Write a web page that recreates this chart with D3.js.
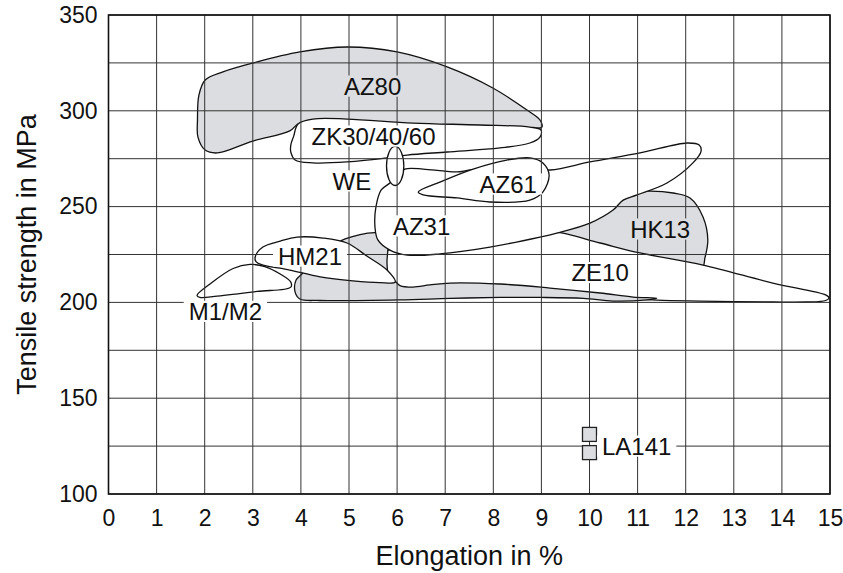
<!DOCTYPE html>
<html><head><meta charset="utf-8">
<script src="https://cdn.jsdelivr.net/npm/d3@7"></script>
<style>
body{margin:0;background:#fff}
text{font-family:"Liberation Sans",Arial,Helvetica,sans-serif;fill:#111}
</style>
</head><body>
<svg id="chart" width="843" height="573"></svg>
<script>
// ---------- data ----------
const xTickValues = [0,1,2,3,4,5,6,7,8,9,10,11,12,13,14,15];
const yTickValues = [100,150,200,250,300,350];
const yGridValues = [100,125,150,175,200,225,250,275,300,325,350];
const xTitle = "Elongation in %";
const yTitle = "Tensile strength in MPa";

// regions: [elongation %, tensile strength MPa]
const az80 = [[1.85,295.2],[1.88,308.2],[2.01,316.1],[2.38,320.3],[3.00,324.9],[3.98,330.7],[4.96,333.3],[6.00,330.7],[7.04,322.9],[7.99,311.9],[8.70,300.4],[8.97,295.2],[9.01,291.5],[8.83,291.0],[7.72,292.1],[6.33,293.1],[4.96,295.2],[4.25,295.2],[3.94,293.1],[3.77,289.5],[3.00,284.2],[2.26,278.0],[2.01,279.5],[1.86,286.3]];
const zk30 = [[3.79,282.1],[3.85,286.8],[3.94,293.1],[4.25,295.7],[4.96,295.7],[6.33,293.6],[7.72,292.6],[8.76,291.5],[8.99,290.0],[8.97,286.3],[8.76,283.2],[8.14,280.6],[7.04,278.5],[6.21,276.9],[5.79,275.4],[4.96,273.3],[4.25,272.8],[3.88,274.3],[3.79,278.5]];
const hk13 = [[9.39,238.8],[10.01,244.0],[10.47,251.4],[10.84,257.1],[11.26,258.1],[11.74,257.1],[12.09,254.5],[12.36,244.6],[12.46,232.6],[12.40,223.2],[12.34,218.0],[11.88,220.0],[11.05,224.2],[10.22,229.4],[9.49,233.6]];
const ze10 = [[5.75,226.3],[6.48,227.3],[7.93,231.0],[8.97,236.2],[9.32,236.7],[10.22,231.0],[11.05,225.8],[12.36,219.5],[13.81,210.1],[14.91,203.9],[14.98,202.3],[14.91,201.0],[14.50,200.2],[13.81,200.2],[12.30,200.7],[11.40,201.2],[10.22,203.0],[8.14,204.0],[6.06,204.0],[5.75,206.5]];
const greyLow = [[3.88,205.4],[3.90,211.7],[4.02,214.8],[4.36,223.2],[4.71,230.5],[4.92,233.1],[5.23,235.4],[5.54,236.4],[5.70,236.2],[5.82,231.0],[5.81,227.8],[5.79,220.5],[5.83,213.7],[5.94,211.6],[6.06,208.8],[6.33,208.0],[6.68,209.1],[7.10,210.1],[8.14,209.6],[9.18,207.5],[10.22,204.9],[10.91,202.8],[11.40,202.1],[11.19,201.3],[10.49,200.7],[9.87,202.1],[8.97,202.6],[8.14,202.6],[7.10,202.1],[6.06,201.3],[4.40,201.0],[3.98,201.8]];
const az31 = [[5.85,262.3],[5.67,258.7],[5.56,249.8],[5.54,239.4],[5.60,232.6],[5.85,227.3],[6.21,224.7],[6.89,225.3],[7.93,228.9],[8.97,234.1],[9.32,236.2],[10.01,241.4],[10.49,248.2],[10.70,253.4],[10.99,256.1],[11.61,262.3],[12.15,272.8],[12.32,279.0],[12.28,282.1],[12.03,283.2],[11.05,278.0],[10.01,273.3],[9.18,269.1],[8.35,270.1],[7.52,269.1],[7.25,268.1],[6.95,268.6],[6.54,269.6],[6.16,269.6],[6.00,266.5]];
const az61 = [[6.44,257.6],[6.89,262.8],[7.58,269.6],[8.28,274.3],[8.76,275.4],[9.03,272.8],[9.16,266.5],[9.03,257.6],[8.76,253.4],[7.93,252.4],[7.25,254.5],[6.54,256.1]];
const weEllipse = {cx:5.96, cy:271.2, rx:0.18, ry:10.2};
const hm21 = [[3.05,223.7],[3.21,228.9],[3.57,232.0],[3.92,234.1],[4.46,233.6],[4.96,231.0],[5.37,224.2],[5.79,216.9],[5.96,210.6],[5.64,210.3],[5.08,211.2],[4.40,213.3],[3.77,216.9],[3.21,219.5],[3.07,221.1]];
const m1m2 = [[1.84,203.6],[2.11,209.6],[2.59,217.7],[2.94,219.8],[3.25,218.7],[3.57,214.8],[3.79,210.6],[3.79,208.0],[3.09,205.7],[2.26,203.3],[1.90,202.6]];
const la141 = [[10,131.1],[10,121.6]];

const labelNames = ["AZ80","ZK30/40/60","WE","AZ61","AZ31","HM21","M1/M2","HK13","ZE10","LA141"];
const labelX = [5.49,5.51,5.06,8.31,6.51,4.19,2.43,11.47,10.22,10.98];
const labelY = [312.9,286.8,263.4,261.8,239.9,224.2,195.3,238.3,215.6,125.0];

// ---------- drawing ----------
const W = 843, H = 573;
const m = {left:108.5, right:13, top:15, bottom:79};
const GREY = "#dcdde0";
const svg = d3.select("#chart");
const x = d3.scaleLinear().domain([0,15]).range([m.left, W-m.right]);
const y = d3.scaleLinear().domain([100,350]).range([H-m.bottom, m.top]);

const line = d3.line().x(d=>x(d[0])).y(d=>y(d[1])).curve(d3.curveCatmullRomClosed.alpha(0.5));
const shapes = svg.append("g").attr("stroke","#111").attr("stroke-width",1.3).attr("stroke-linejoin","round");
function region(pts, fill){ shapes.append("path").attr("d", line(pts)).attr("fill", fill); }

region(az80, GREY);
region(zk30, "#fff");
region(hk13, GREY);
region(ze10, "#fff");
region(greyLow, GREY);
region(az31, "#fff");
region(az61, "#fff");
shapes.append("ellipse")
  .attr("cx", x(weEllipse.cx)).attr("cy", y(weEllipse.cy))
  .attr("rx", x(weEllipse.cx+weEllipse.rx)-x(weEllipse.cx))
  .attr("ry", y(weEllipse.cy-weEllipse.ry)-y(weEllipse.cy))
  .attr("fill","#fff");
region(hm21, "#fff");
region(m1m2, "#fff");

// grid on top of fills
const grid = svg.append("g").attr("stroke","#333").attr("stroke-width",1);
grid.selectAll("line.v").data(xTickValues).join("line")
  .attr("x1",d=>x(d)).attr("x2",d=>x(d)).attr("y1",y(100)).attr("y2",y(350));
grid.selectAll("line.h").data(yGridValues).join("line")
  .attr("y1",d=>y(d)).attr("y2",d=>y(d)).attr("x1",x(0)).attr("x2",x(15));

// LA141 squares
const sq = 14;
svg.append("g").selectAll("rect").data(la141).join("rect")
  .attr("x",d=>x(d[0])-sq/2).attr("y",d=>y(d[1])-sq/2)
  .attr("width",sq).attr("height",sq)
  .attr("fill",GREY).attr("stroke","#222").attr("stroke-width",1.3);

// frame
svg.append("rect").attr("x",x(0)).attr("y",y(350)).attr("width",x(15)-x(0)).attr("height",y(100)-y(350))
  .attr("fill","none").attr("stroke","#111").attr("stroke-width",1.6);

// axes
const xAxis = d3.axisBottom(x).tickValues(xTickValues).tickSize(0).tickPadding(16).tickFormat(d3.format("d"));
const gx = svg.append("g").attr("transform",`translate(0,${y(100)})`).call(xAxis);
gx.select(".domain").remove();
gx.selectAll("text").attr("font-size",23).attr("fill","#111").style("font-family",'"Liberation Sans",Arial,sans-serif');
const yAxis = d3.axisLeft(y).tickValues(yTickValues).tickSize(0).tickPadding(11).tickFormat(d3.format("d"));
const gy = svg.append("g").attr("transform",`translate(${x(0)},0)`).call(yAxis);
gy.select(".domain").remove();
gy.selectAll("text").attr("font-size",23).attr("fill","#111").style("font-family",'"Liberation Sans",Arial,sans-serif');

svg.append("text").attr("x",(x(0)+x(15))/2).attr("y",565).attr("text-anchor","middle")
  .attr("font-size",27).text(xTitle);
svg.append("text").attr("transform",`translate(36,${(y(100)+y(350))/2}) rotate(-90)`).attr("text-anchor","middle")
  .attr("font-size",27).text(yTitle);

// region labels with background boxes
const FS = 24;
const lg = svg.append("g");
labelNames.forEach((name,i)=>{
  const cx = x(labelX[i]), cy = y(labelY[i]);
  const bg = (name==="AZ80"||name==="HK13") ? GREY : "#fff";
  const r = lg.append("rect").attr("fill",bg);
  const t = lg.append("text").attr("x",cx).attr("y",cy+0.358*FS).attr("text-anchor","middle")
    .attr("font-size",FS).text(name);
  const bb = t.node().getBBox();
  const ch = 0.716*FS;
  r.attr("x",bb.x-5).attr("width",bb.width+10).attr("y",cy-ch/2-2).attr("height",ch+4);
});
</script>
</body></html>
